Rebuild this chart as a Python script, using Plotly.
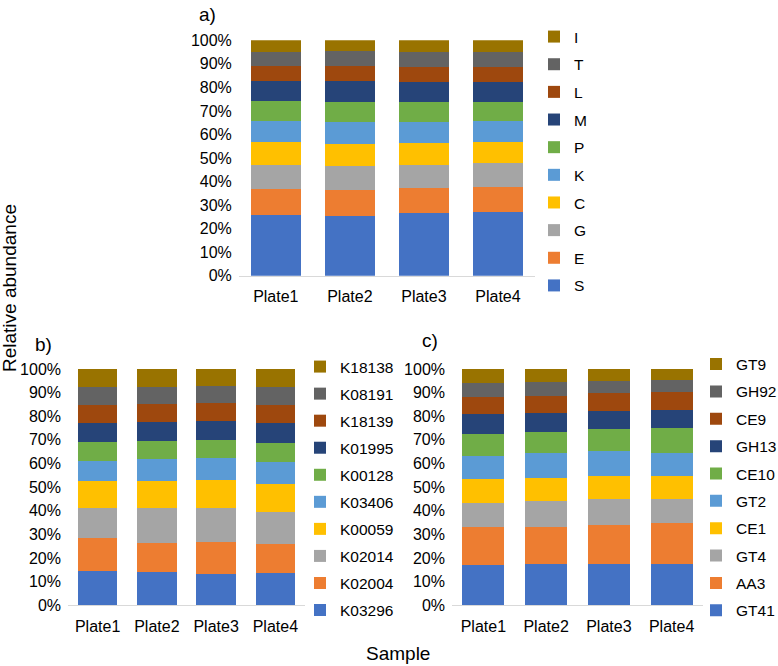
import plotly.graph_objects as go

plates = ["Plate1", "Plate2", "Plate3", "Plate4"]
tick_vals = [0, 10, 20, 30, 40, 50, 60, 70, 80, 90, 100]
tick_text = ["0%", "10%", "20%", "30%", "40%", "50%", "60%", "70%", "80%", "90%", "100%"]

colors = ["#4472C4", "#ED7D31", "#A5A5A5", "#FFC000", "#5B9BD5",
          "#70AD47", "#264478", "#9E480E", "#636363", "#997300"]

# ---- panel a (values in %, per plate) ----
a_labels = ["S", "E", "G", "C", "K", "P", "M", "L", "T", "I"]
a_S = [25.8, 25.4, 26.5, 26.9]
a_E = [11.0, 11.1, 10.9, 10.8]
a_G = [10.4, 10.1, 9.8, 10.0]
a_C = [9.7, 9.5, 9.2, 9.2]
a_K = [8.8, 9.1, 9.0, 8.8]
a_P = [8.5, 8.7, 8.5, 8.2]
a_M = [8.5, 8.8, 8.4, 8.3]
a_L = [6.5, 6.5, 6.5, 6.3]
a_T = [6.0, 6.1, 6.4, 6.4]
a_I = [4.8, 4.7, 4.8, 5.1]
a_values = [a_S, a_E, a_G, a_C, a_K, a_P, a_M, a_L, a_T, a_I]

# ---- panel b ----
b_labels = ["K03296", "K02004", "K02014", "K00059", "K03406",
            "K00128", "K01995", "K18139", "K08191", "K18138"]
b_K03296 = [14.7, 14.1, 13.4, 13.8]
b_K02004 = [13.9, 12.4, 13.5, 12.2]
b_K02014 = [12.7, 14.5, 14.4, 13.5]
b_K00059 = [11.5, 11.6, 11.9, 12.0]
b_K03406 = [8.1, 9.2, 9.0, 9.1]
b_K00128 = [8.4, 7.9, 7.9, 8.2]
b_K01995 = [7.9, 7.9, 7.9, 8.4]
b_K18139 = [7.4, 7.6, 7.5, 7.7]
b_K08191 = [7.6, 7.0, 7.3, 7.3]
b_K18138 = [7.8, 7.8, 7.2, 7.8]
b_values = [b_K03296, b_K02004, b_K02014, b_K00059, b_K03406,
            b_K00128, b_K01995, b_K18139, b_K08191, b_K18138]

# ---- panel c ----
c_labels = ["GT41", "AA3", "GT4", "CE1", "GT2",
            "CE10", "GH13", "CE9", "GH92", "GT9"]
c_GT41 = [17.1, 17.3, 17.6, 17.3]
c_AA3 = [16.2, 16.0, 16.3, 17.4]
c_GT4 = [10.1, 10.7, 11.1, 10.3]
c_CE1 = [10.2, 10.0, 9.9, 9.9]
c_GT2 = [9.6, 10.5, 10.5, 9.6]
c_CE10 = [9.3, 9.0, 9.4, 10.4]
c_GH13 = [8.5, 7.9, 7.6, 7.8]
c_CE9 = [7.3, 7.3, 7.4, 7.7]
c_GH92 = [5.9, 5.9, 5.3, 4.9]
c_GT9 = [5.8, 5.4, 4.9, 4.7]
c_values = [c_GT41, c_AA3, c_GT4, c_CE1, c_GT2,
            c_CE10, c_GH13, c_CE9, c_GH92, c_GT9]

W, H = 778, 666
FONT = "Liberation Sans, Arial, sans-serif"

fig = go.Figure()

panels = [
    ("a", a_labels, a_values, "x", "y", "legend"),
    ("b", b_labels, b_values, "x2", "y2", "legend2"),
    ("c", c_labels, c_values, "x3", "y3", "legend3"),
]
for key, labels, values, xa, ya, lg in panels:
    n = len(labels)
    for i, (name, vals) in enumerate(zip(labels, values)):
        fig.add_trace(go.Bar(
            x=plates, y=vals, name=name, xaxis=xa, yaxis=ya, legend=lg,
            legendgroup=key + name, legendrank=100 + (n - i),
            marker=dict(color=colors[i], line=dict(width=0)),
        ))

def px_x(p):
    return p / W

def px_y(p):
    return 1 - p / H

xcommon = dict(showline=True, linecolor="#D9D9D9", linewidth=1, ticks="",
               showgrid=False, zeroline=False, tickfont=dict(size=16),
               ticklabelstandoff=6, fixedrange=True, automargin=False)
ycommon = dict(range=[0, 100], tickmode="array", tickvals=tick_vals,
               ticktext=tick_text,
               showgrid=False, zeroline=False, showline=False, ticks="",
               tickfont=dict(size=16), ticklabelstandoff=6, fixedrange=True,
               automargin=False)

legcommon = dict(xanchor="left", yanchor="top", traceorder="grouped",
                 font=dict(size=15.5), bgcolor="rgba(0,0,0,0)")

def note(text, x, y, size=19, angle=0):
    return dict(text=text, x=px_x(x), y=px_y(y), xref="paper", yref="paper",
                xanchor="center", yanchor="middle", showarrow=False,
                textangle=angle, font=dict(size=size))

fig.update_layout(
    width=W, height=H,
    margin=dict(l=0, r=0, t=0, b=0, autoexpand=False),
    paper_bgcolor="white", plot_bgcolor="white",
    font=dict(family=FONT, size=16, color="#000000"),
    barmode="stack", bargap=0.33,
    showlegend=True,
    xaxis=dict(domain=[px_x(238.8), px_x(535)], anchor="y", **xcommon),
    yaxis=dict(domain=[px_y(275.7), px_y(40.3)], anchor="x", **ycommon),
    xaxis2=dict(domain=[px_x(68), px_x(305)], anchor="y2", **xcommon),
    yaxis2=dict(domain=[px_y(605.3), px_y(369)], anchor="x2", **ycommon),
    xaxis3=dict(domain=[px_x(452), px_x(703)], anchor="y3", **xcommon),
    yaxis3=dict(domain=[px_y(605.3), px_y(369)], anchor="x3", **ycommon),
    legend=dict(x=px_x(534), y=px_y(20), tracegroupgap=4.5, **legcommon),
    legend2=dict(x=px_x(300), y=px_y(350), tracegroupgap=3.9, **legcommon),
    legend3=dict(x=px_x(696), y=px_y(347.5), tracegroupgap=4.2, **legcommon),
    annotations=[
        note("a)", 207, 15),
        note("b)", 43, 344),
        note("c)", 430, 340),
        note("Relative abundance", 9, 288, angle=-90),
        note("Sample", 398, 653),
    ],
)

fig.write_html("out.html",
               config={"displayModeBar": False},
               post_script="document.body.style.margin='0';"
                           "document.body.style.padding='0';")
